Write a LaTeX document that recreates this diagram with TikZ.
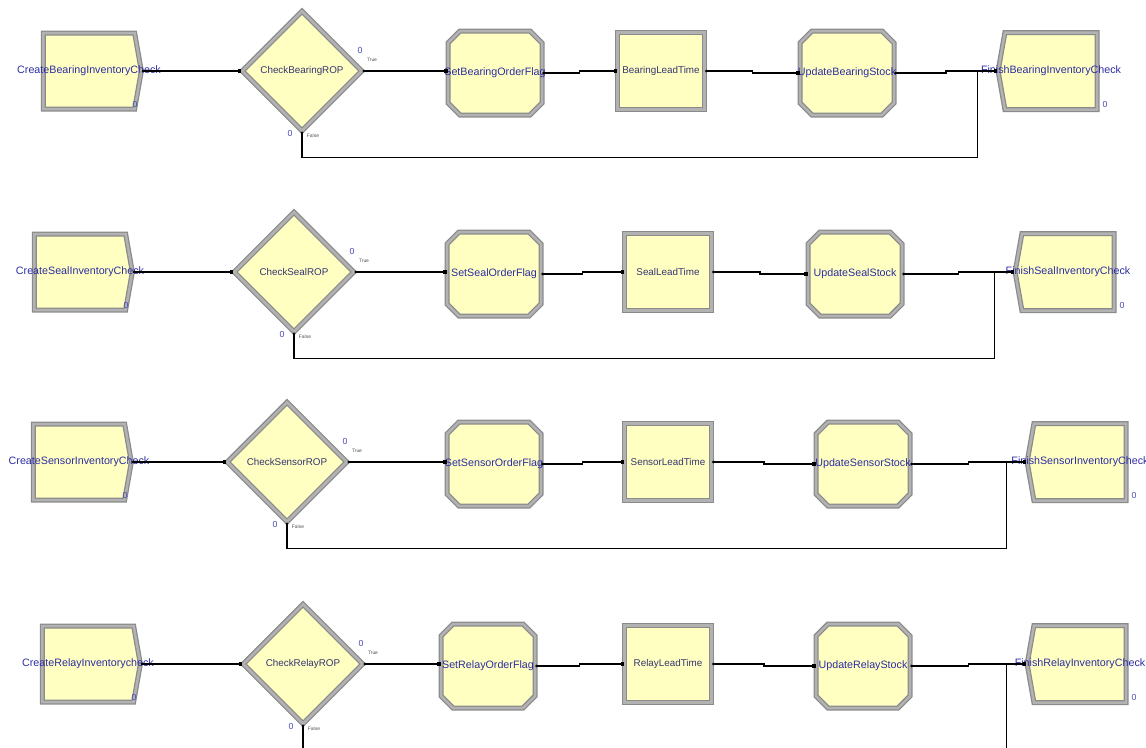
\documentclass[tikz,border=0pt]{standalone}
\usepackage{fontspec}
\setmainfont{Liberation Sans}
\usetikzlibrary{arrows.meta}
\usetikzlibrary{calc}
\usetikzlibrary{shapes.geometric}
\usetikzlibrary{shapes.symbols}
\definecolor{modfill}{HTML}{FFFFC2}
\definecolor{modedge}{HTML}{8A8A8A}
\definecolor{modband}{HTML}{B2B2B2}
\definecolor{modtext}{HTML}{2C2CA2}
\definecolor{intext}{HTML}{34346E}
\definecolor{cntblue}{HTML}{4A4AB8}
\tikzset{module/.style = {fill = modfill, draw = modedge, line width = 0.25mm,
                          double = modband, double distance = 0.5mm,
                          inner sep = 0, font = \fontsize{5.6}{6}\selectfont, text = intext}}
\tikzset{createmod/.style = {module, signal, signal to = east, signal pointer angle = 160,
                             minimum width = 19.6mm, minimum height = 15.2mm}}
\tikzset{disposemod/.style = {module, signal, signal to = west, signal pointer angle = 160,
                              minimum width = 19.8mm, minimum height = 15.4mm}}
\tikzset{decidemod/.style = {module, diamond, minimum width = 24mm, minimum height = 24mm}}
\tikzset{assignmod/.style = {rectangle, inner sep = 0, minimum width = 18.8mm, minimum height = 16.8mm}}
\tikzset{processmod/.style = {module, rectangle, minimum width = 17.4mm, minimum height = 15.4mm}}
\tikzset{modname/.style = {font = \fontsize{6.1}{7}\selectfont, text = modtext, inner sep = 0}}
\tikzset{cnt/.style = {font = \fontsize{5}{6}\selectfont, text = cntblue, inner sep = 0}}
\tikzset{branch/.style = {font = \fontsize{2.8}{3}\selectfont, text = black!70, inner sep = 0}}
\tikzset{flow/.style = {draw, line width = 0.3mm,
                        arrows = {Circle[length=1.4pt]-Square[length=1.8pt,width=1.8pt]}}}
\tikzset{elbow/.style = {to path = {-| ($(\tikztostart)!.5!(\tikztotarget)$) |- (\tikztotarget)}}}
% bevelled box behind an assign node
\tikzset{octbox/.pic = {\draw [module] (-35, -42) -- (35, -42) -- (47, -30) -- (47, 30)
                                       -- (35, 42) -- (-35, 42) -- (-47, 30) -- (-47, -30) -- cycle;}}

\begin{document}
\begin{tikzpicture}[x = 0.2mm, y = -0.2mm]
  \useasboundingbox (0, 0) rectangle (1146, 747);
  \clip (0, 0) rectangle (1146, 747);

  % one inventory check line per part
  \foreach \nm/\y/\cx/\dx/\sx/\px/\ux/\fx/\crt in {
      Bearing/71/89/302/495/661/847/1051/CreateBearingInventoryCheck,
      Seal/272/80/294/494/668/855/1068/CreateSealInventoryCheck,
      Sensor/462/79/287/494/668/863/1080/CreateSensorInventoryCheck,
      Relay/664/88/303/488/668/863/1080/CreateRelayInventorycheck} {
    \node [createmod, label = {[modname]center:\crt},
           label = {[cnt, xshift = 9.2mm, yshift = -6.6mm]center:0}] (cre\nm) at (\cx, \y) {};
    \node [decidemod,
           label = {[cnt, xshift = 11.6mm, yshift = 4.2mm]center:0},
           label = {[branch, xshift = 14mm, yshift = 2.2mm]center:True},
           label = {[cnt, xshift = -2.4mm, yshift = -12.4mm]center:0},
           label = {[branch, xshift = 2.2mm, yshift = -13mm]center:False}] (chk\nm) at (\dx, \y) {Check\nm ROP};
    \pic at (\sx, \y + 2) {octbox};
    \node [assignmod, label = {[modname]center:Set\nm OrderFlag}] (set\nm) at (\sx, \y + 2) {};
    \node [processmod] (lt\nm) at (\px, \y) {\nm LeadTime};
    \pic at (\ux, \y + 2) {octbox};
    \node [assignmod, label = {[modname]center:Update\nm Stock}] (upd\nm) at (\ux, \y + 2) {};
    \node [disposemod, label = {[modname]center:Finish\nm InventoryCheck},
           label = {[cnt, xshift = 10.8mm, yshift = -6.6mm]center:0}] (fin\nm) at (\fx, \y) {};

    \draw [flow] (cre\nm.east) -- (chk\nm.west);
    \draw [flow] (chk\nm.east) -- (chk\nm.east -| set\nm.west);
    \draw [flow] (set\nm.east) to [elbow] (lt\nm.west);
    \draw [flow] (lt\nm.east) to [elbow] (upd\nm.west);
    \draw [flow] (upd\nm.east) to [elbow] (fin\nm.west);
    % false branch skips the order
    \draw [flow] (chk\nm.south) -- ++(0, 26) -| ([xshift = -4mm] fin\nm.west) -- (fin\nm.west);
  }
\end{tikzpicture}
\end{document}
